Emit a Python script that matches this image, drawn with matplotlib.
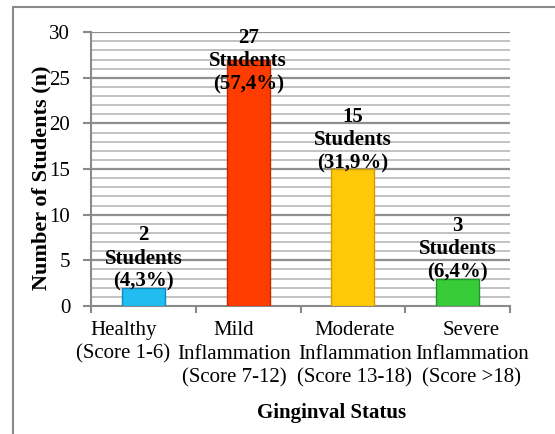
import matplotlib
matplotlib.use("Agg")
from matplotlib import pyplot as plt
from matplotlib.patches import Rectangle
from matplotlib.transforms import ScaledTranslation

# Data
categories = [
    "Healthy\n(Score 1-6)",
    "Mild\nInflammation\n(Score 7-12)",
    "Moderate\nInflammation\n(Score 13-18)",
    "Severe\nInflammation\n(Score >18)",
]
counts = [2, 27, 15, 3]
percents = ["4,3%", "57,4%", "31,9%", "6,4%"]
bar_colors = ["#22bdf0", "#ff3c00", "#ffc808", "#39cc39"]
edge_colors = ["#1088b8", "#c02800", "#d09a00", "#20952a"]
# horizontal nudges (px) of category labels, like Excel spreads them
label_shift = [-20, -14, 2, 14]

plt.rcParams["font.family"] = ["Liberation Serif", "DejaVu Serif"]

fig = plt.figure(figsize=(5.55, 4.34), dpi=100)
ax = fig.add_axes([0.164, 0.295, 0.755, 0.631])

# outer chart border
fig.patches.append(
    Rectangle((13 / 555, -0.1), 1.2, 1 - 7 / 434 + 0.1,
              transform=fig.transFigure, fill=False,
              edgecolor="#8a8a8a", linewidth=1.5)
)

x = list(range(len(counts)))
ax.bar(x, counts, width=0.41, color=bar_colors, edgecolor=edge_colors,
       linewidth=1.0, zorder=3)

ymax = 30
ax.set_ylim(0, ymax)
ax.set_xlim(-0.5, len(counts) - 0.5)

for xi, v, p in zip(x, counts, percents):
    txt = f"{v}\nStudents\n({p})"
    if v + 8 > ymax:
        ax.text(xi, ymax + 0.5, txt, ha="center", va="top", fontsize=15,
                fontweight="bold", linespacing=1.22, zorder=4)
    else:
        ax.text(xi, v - 0.45, txt, ha="center", va="bottom", fontsize=15,
                fontweight="bold", linespacing=1.22, zorder=4)

# grid: every unit, darker every 5
for yv in range(1, ymax + 1):
    if yv % 5 == 0:
        ax.axhline(yv, color="#8f8f8f", linewidth=1.6, zorder=1)
    else:
        ax.axhline(yv, color="#bdbdbd", linewidth=1.3, zorder=1)

ax.set_yticks(range(0, ymax + 1, 5))
ax.set_xticks(x)
ax.set_xticklabels([])
ax.set_xticks([i - 0.5 for i in range(len(counts) + 1)], minor=True)
ax.tick_params(axis="x", which="major", length=0)
ax.tick_params(axis="x", which="minor", length=5, width=1.5, color="#8a8a8a")
ax.tick_params(axis="y", which="major", length=6, width=1.5, color="#8a8a8a",
               labelsize=15, pad=9)

# category labels, nudged sideways as in the reference
for xi, lab, dx in zip(x, categories, label_shift):
    tr = ax.get_xaxis_transform() + ScaledTranslation(
        dx / 100, -0.15, fig.dpi_scale_trans)
    ax.text(xi, 0, lab, transform=tr, ha="center", va="top", fontsize=15,
            linespacing=1.33)

for side in ["top", "right"]:
    ax.spines[side].set_visible(False)
for side in ["left", "bottom"]:
    ax.spines[side].set_color("#8a8a8a")
    ax.spines[side].set_linewidth(1.5)

ax.set_ylabel("Number of Students (n)", fontsize=16, fontweight="bold")
ax.yaxis.set_label_coords(-0.095, 0.467)
ax.set_xlabel("Ginginval Status", fontsize=15, fontweight="bold")
ax.xaxis.set_label_coords(0.575, -0.354)

fig.savefig("out.png", dpi=100)
